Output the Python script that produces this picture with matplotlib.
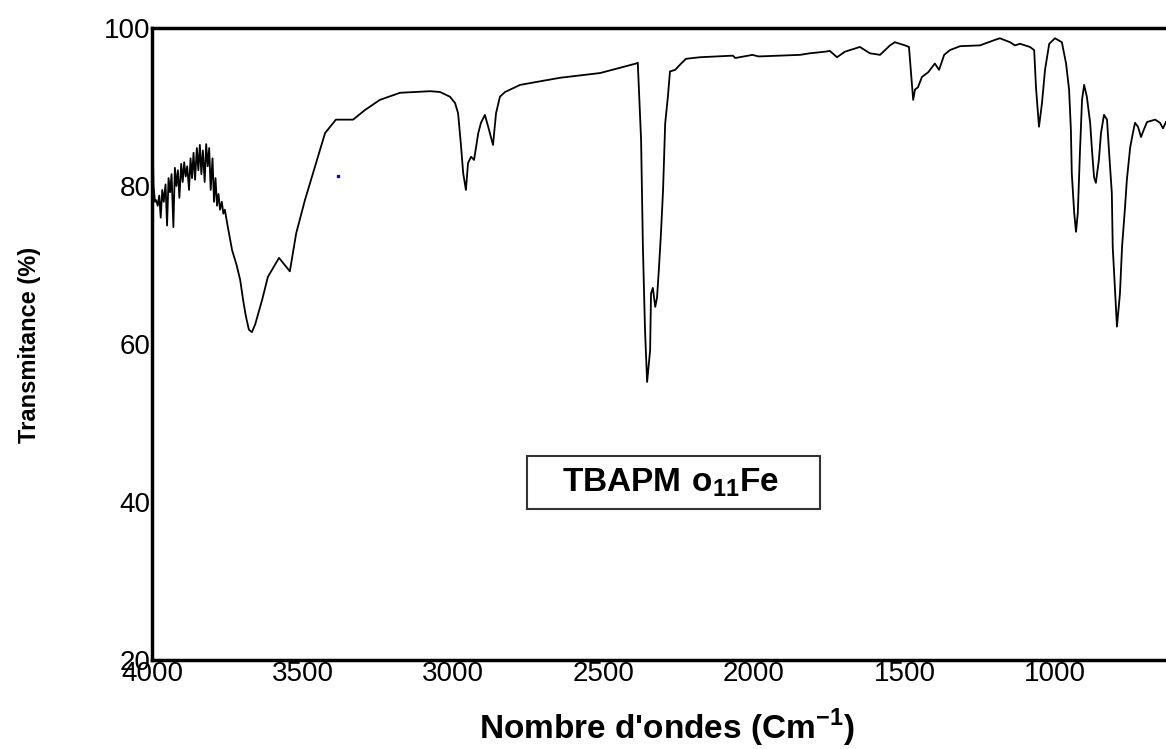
import matplotlib.pyplot as plt
from matplotlib.patches import Rectangle

plt.rcParams['font.family'] = ['Liberation Sans', 'DejaVu Sans']
plt.rcParams['mathtext.fontset'] = 'custom'
plt.rcParams['mathtext.rm'] = 'Liberation Sans'
plt.rcParams['mathtext.bf'] = 'Liberation Sans:bold'

# IR spectrum (wavenumber in cm-1, transmittance in %)
wavenumber = [
    4000, 3995, 3990, 3986, 3981, 3976, 3971, 3966, 3961, 3955, 3950, 3945,
    3940, 3935, 3929, 3924, 3919, 3914, 3909, 3903, 3898, 3893, 3888, 3883,
    3877, 3872, 3867, 3862, 3857, 3851, 3846, 3841, 3836, 3831, 3825, 3820,
    3815, 3810, 3805, 3799, 3794, 3789, 3784, 3779, 3774, 3768, 3763, 3758,
    3748, 3734, 3719, 3707, 3697, 3688, 3678, 3668, 3657, 3634, 3615, 3578,
    3542, 3521, 3492, 3459, 3425, 3389, 3332, 3293, 3243, 3176, 3076, 3043,
    3010, 2993, 2983, 2974, 2966, 2957, 2950, 2940, 2930, 2916, 2907, 2894,
    2883, 2867, 2857, 2844, 2827, 2777, 2644, 2511, 2392, 2386, 2375, 2369,
    2362, 2355, 2345, 2342, 2336, 2328, 2322, 2316, 2309, 2302, 2295, 2286,
    2279, 2262, 2242, 2226, 2179, 2070, 2062, 2005, 1985, 1847, 1814, 1764,
    1748, 1724, 1698, 1648, 1615, 1581, 1548, 1532, 1515, 1498, 1485, 1479,
    1471, 1465, 1455, 1442, 1421, 1399, 1385, 1368, 1349, 1315, 1249, 1199,
    1183, 1149, 1133, 1116, 1083, 1069, 1063, 1053, 1043, 1033, 1019, 1000,
    977, 963, 953, 947, 944, 936, 930, 924, 917, 910, 903, 894,
    883, 877, 870, 864, 854, 847, 837, 827, 820, 811, 808, 800,
    794, 784, 777, 767, 761, 750, 741, 734, 724, 714, 705, 694,
    667, 651, 641, 631,
]
transmittance = [
    89.5, 80.0, 78.0, 78.2, 77.5, 78.8, 76.0, 79.5, 78.0, 80.2, 75.0, 81.0,
    79.2, 81.5, 74.8, 82.3, 80.0, 82.0, 78.5, 82.8, 80.5, 83.0, 81.2, 82.5,
    79.5, 83.5, 81.0, 84.2, 80.8, 84.8, 82.0, 85.2, 81.5, 84.5, 80.5, 85.3,
    82.5, 84.8, 79.5, 83.5, 78.0, 81.0, 77.5, 79.0, 77.0, 78.0, 76.5, 77.0,
    74.8, 71.9, 70.0, 68.1, 65.5, 63.5, 61.8, 61.5, 62.5, 65.6, 68.5, 70.9,
    69.2, 74.0, 78.2, 82.4, 86.7, 88.4, 88.4, 89.6, 90.9, 91.8, 92.0, 91.9,
    91.3, 90.5, 89.2, 85.4, 81.6, 79.5, 82.9, 83.7, 83.3, 86.7, 88.0, 89.0,
    87.5, 85.2, 89.2, 91.3, 91.9, 92.8, 93.7, 94.3, 95.5, 95.6, 85.8, 72.3,
    61.8, 55.2, 59.2, 66.4, 67.1, 64.7, 65.9, 69.4, 74.0, 79.5, 87.9, 91.3,
    94.5, 94.7, 95.5, 96.1, 96.3, 96.5, 96.2, 96.6, 96.4, 96.6, 96.8, 97.0,
    97.1, 96.3, 97.0, 97.6, 96.8, 96.6, 97.8, 98.2, 98.0, 97.8, 97.6, 94.7,
    90.9, 92.2, 92.5, 93.8, 94.4, 95.5, 94.7, 96.6, 97.2, 97.7, 97.8, 98.5,
    98.7, 98.2, 97.8, 98.0, 97.6, 97.2, 92.5, 87.5, 90.5, 94.7, 98.0, 98.7,
    98.2, 95.5, 92.2, 87.1, 81.6, 76.6, 74.2, 76.6, 84.2, 90.9, 92.8, 91.3,
    88.0, 84.6, 81.1, 80.4, 83.3, 86.7, 89.0, 88.4, 84.2, 79.1, 72.3, 66.4,
    62.2, 66.4, 72.3, 77.4, 80.8, 84.9, 86.7, 88.0, 87.5, 86.2, 87.1, 88.1,
    88.4, 88.0, 87.3, 88.1,
]

# stray blue point on the original scan
stray_wn = [3382]
stray_t = [81.3]

x_ticks = [4000, 3500, 3000, 2500, 2000, 1500, 1000]
y_ticks = [20, 40, 60, 80, 100]

fig = plt.figure(figsize=(11.66, 7.49), dpi=100)
ax = fig.add_axes([152 / 1166, 89 / 749, 1014 / 1166, 632 / 749])

ax.plot(wavenumber, transmittance, color='black', lw=1.3)
ax.plot(stray_wn, stray_t, marker='s', ms=1.5, color='blue', ls='none')

ax.set_xlim(4000, 631)
ax.set_ylim(20, 100)
ax.set_xticks(x_ticks)
ax.set_yticks(y_ticks)
ax.tick_params(length=0, labelsize=20, pad=1)

for side in ['left', 'bottom', 'top']:
    ax.spines[side].set_linewidth(2.5)
ax.spines['right'].set_visible(False)

fig.text(30 / 1166, 1 - 345 / 749, 'Transmitance (%)', rotation=90,
         ha='center', va='center', fontsize=17, fontweight='bold')
fig.text(667 / 1166, 1 - 728 / 749, r"Nombre d'ondes (Cm$^{\mathbf{-1}}$)",
         ha='center', va='center', fontsize=24, fontweight='bold')

# sample label box
box = Rectangle((527 / 1166, 1 - 509 / 749), 293 / 1166, 53 / 749,
                transform=fig.transFigure, fill=False, ec='#333333', lw=1.5)
fig.patches.append(box)
fig.text(562 / 1166, 1 - 483 / 749, r'$\mathbf{TBAPM\ o_{11}Fe}$',
         ha='left', va='center', fontsize=24)

fig.savefig('out.png', dpi=100)
